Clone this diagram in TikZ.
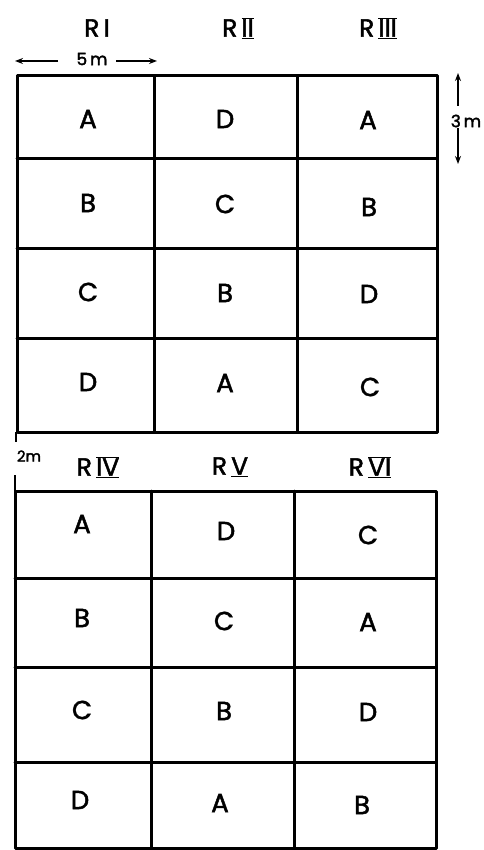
\documentclass[tikz,border=0pt]{standalone}
\usepackage{fontspec}
\setmainfont{Poppins}[BoldFont=Poppins,BoldFeatures={FakeBold=2}]
\usetikzlibrary{arrows.meta}
\newcommand\barrn[1]{\ensuremath{\overline{\underline{\hbox{#1}}}}}
\newcommand\ulrn[1]{\ensuremath{\underline{\hbox{#1}}}}
\begin{document}
\begin{tikzpicture}[x=1pt,y=-1pt,
  grid/.style={line width=3pt,line cap=round,line join=round},
  cell/.style={font=\fontsize{26}{28}\selectfont\bfseries,inner sep=0pt},
  rep/.style={font=\fontsize{25}{28}\selectfont\bfseries,inner sep=0pt},
  dim/.style={font=\fontsize{17}{19}\selectfont\bfseries,inner sep=1pt},
  dimarrow/.style={line width=1.5pt,-{Stealth[length=8pt,width=6pt]}}]
\useasboundingbox (0,0) rectangle (483,850);
% top grid
\draw[grid] (17,76) rectangle (437,432);
\draw[grid] (154,76) -- (154,432);
\draw[grid] (297,76) -- (297,432);
\draw[grid] (17,159) -- (437,159);
\draw[grid] (17,248) -- (437,248);
\draw[grid] (17,338) -- (437,338);
% bottom grid
\draw[grid] (15,491) rectangle (436,848);
\draw[grid] (151,491) -- (151,848);
\draw[grid] (294,491) -- (294,848);
\draw[grid] (15,578) -- (436,578);
\draw[grid] (15,667) -- (436,667);
\draw[grid] (15,762) -- (436,762);
% replication labels
\node[rep] (r1) at (97,28) {R\,I};
\node[rep] (r2) at (238,28) {R\,\barrn{II}};
\node[rep] (r3) at (378,28) {R\,\barrn{III}};
\node[rep] (r4) at (98,467) {R\,\barrn{IV}};
\node[rep] (r5) at (230,467) {R\,\ulrn{V}};
\node[rep] (r6) at (370,467) {R\,\barrn{VI}};
% top cells
\node[cell] (a11) at (88,119) {A};
\node[cell] (a12) at (225,119) {D};
\node[cell] (a13) at (368,120) {A};
\node[cell] (a21) at (88,203) {B};
\node[cell] (a22) at (225,204) {C};
\node[cell] (a23) at (369,207) {B};
\node[cell] (a31) at (88,292) {C};
\node[cell] (a32) at (225,293) {B};
\node[cell] (a33) at (369,294) {D};
\node[cell] (a41) at (88,382) {D};
\node[cell] (a42) at (225,383) {A};
\node[cell] (a43) at (370,387) {C};
% bottom cells
\node[cell] (b11) at (82,524) {A};
\node[cell] (b12) at (226,531) {D};
\node[cell] (b13) at (368,535) {C};
\node[cell] (b21) at (82,618) {B};
\node[cell] (b22) at (224,621) {C};
\node[cell] (b23) at (368,622) {A};
\node[cell] (b31) at (82,710) {C};
\node[cell] (b32) at (224,711) {B};
\node[cell] (b33) at (368,712) {D};
\node[cell] (b41) at (80,800) {D};
\node[cell] (b42) at (220,803) {A};
\node[cell] (b43) at (362,805) {B};
% 5m dimension
\node[dim] (m5) at (92,59) {5\,m};
\coordinate (m5l) at (15,61);
\coordinate (m5r) at (157,61);
\coordinate (m5a) at (58,61);
\coordinate (m5b) at (116,61);
\draw[dimarrow] (m5a) -- (m5l);
\draw[dimarrow] (m5b) -- (m5r);
% 3m dimension
\node[dim] (m3) at (466,121) {3\,m};
\coordinate (m3t) at (458,73);
\coordinate (m3b) at (458,164);
\coordinate (m3u) at (458,106);
\coordinate (m3d) at (458,128);
\draw[dimarrow] (m3u) -- (m3t);
\draw[dimarrow] (m3d) -- (m3b);
% 2m gap
\node[dim,font=\fontsize{15}{17}\selectfont\bfseries] (m2) at (29,456) {2m};
\coordinate (g1) at (16,432);
\coordinate (g2) at (16,442);
\coordinate (g3) at (15,475);
\coordinate (g4) at (15,491);
\draw[line width=1.8pt] (g1) -- (g2);
\draw[line width=1.8pt] (g3) -- (g4);
\end{tikzpicture}
\end{document}
